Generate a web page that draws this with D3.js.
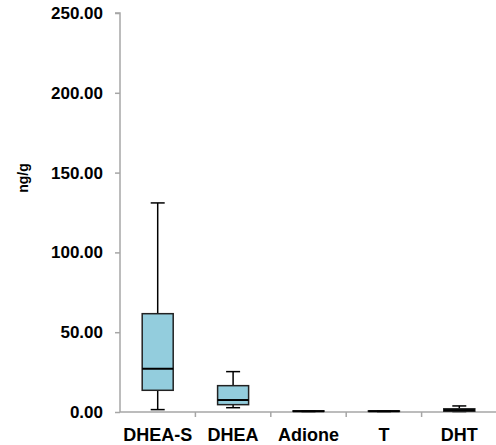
<!DOCTYPE html>
<html>
<head>
<meta charset="utf-8">
<script src="https://cdn.jsdelivr.net/npm/d3@7"></script>
<style>
  body { margin: 0; background: #fff; }
  text { font-family: "Liberation Sans", Arial, sans-serif; font-weight: bold; }
</style>
</head>
<body>
<svg width="496" height="445"></svg>
<script>
let categories = ["DHEA-S", "DHEA", "Adione", "T", "DHT"];
let minValues = [1.5, 2.7, 0.3, 0.3, 0.3];
let q1Values = [13.6, 4.6, 0.4, 0.4, 0.5];
let medianValues = [27.1, 7.5, 0.5, 0.5, 1.2];
let q3Values = [61.6, 16.5, 0.7, 0.7, 2.0];
let maxValues = [131, 25.3, 0.8, 0.8, 3.8];
let yTicks = [0, 50, 100, 150, 200, 250];

let data = categories.map((c, i) => ({
    name: c, min: minValues[i], q1: q1Values[i], median: medianValues[i],
    q3: q3Values[i], max: maxValues[i]
}));

let svg = d3.select("svg");
let plotLeft = 120, plotRight = 497, plotTop = 13, plotBottom = 412;

let xScale = d3.scaleBand()
    .domain(categories)
    .range([plotLeft, plotRight]);

let yScale = d3.scaleLinear()
    .domain([0, 250])
    .range([plotBottom, plotTop]);

// y axis
let yAxis = d3.axisLeft(yScale)
    .tickValues(yTicks)
    .tickFormat(d3.format(".2f"))
    .tickSize(5)
    .tickPadding(12);

let gy = svg.append("g")
    .attr("transform", `translate(${plotLeft},0)`)
    .call(yAxis);
gy.selectAll("path, line").attr("stroke", "#a6a6a6").attr("stroke-width", 1.5);
gy.select(".domain").attr("d", `M-5,${plotTop}H0V${plotBottom}`);
gy.selectAll("text").attr("font-size", 17).attr("fill", "#000")
    .style("font-family", "'Liberation Sans', Arial, sans-serif").style("font-weight", "bold");

// x axis
let xAxis = d3.axisBottom(xScale)
    .tickSize(0)
    .tickPadding(16);

let gx = svg.append("g")
    .attr("transform", `translate(0,${plotBottom})`)
    .call(xAxis);
gx.select(".domain").attr("stroke", "#a6a6a6").attr("stroke-width", 1.5)
    .attr("d", `M${plotLeft},0H${plotRight}`);
gx.selectAll("text").attr("font-size", 18).attr("fill", "#000")
    .style("font-family", "'Liberation Sans', Arial, sans-serif").style("font-weight", "bold");

// category separators
gx.selectAll(".sep")
    .data(categories.slice(1))
    .enter()
    .append("line")
    .attr("x1", d => xScale(d))
    .attr("x2", d => xScale(d))
    .attr("y1", 0)
    .attr("y2", 5)
    .attr("stroke", "#a6a6a6")
    .attr("stroke-width", 1.5);

// y axis title
svg.append("text")
    .attr("transform", "translate(28,178) rotate(-90)")
    .attr("text-anchor", "middle")
    .attr("font-size", 14)
    .text("ng/g");

// boxes
let boxWidth = 31, capWidth = 14;
let boxes = svg.append("g").selectAll("g")
    .data(data)
    .enter()
    .append("g")
    .attr("transform", d => `translate(${xScale(d.name) + xScale.bandwidth() / 2},0)`);

boxes.append("line")
    .attr("x1", 0).attr("x2", 0)
    .attr("y1", d => yScale(d.max))
    .attr("y2", d => yScale(d.min))
    .attr("stroke", "#000").attr("stroke-width", 1.5);

boxes.append("line")
    .attr("x1", -capWidth / 2).attr("x2", capWidth / 2)
    .attr("y1", d => yScale(d.max)).attr("y2", d => yScale(d.max))
    .attr("stroke", "#000").attr("stroke-width", 1.5);

boxes.append("line")
    .attr("x1", -capWidth / 2).attr("x2", capWidth / 2)
    .attr("y1", d => yScale(d.min)).attr("y2", d => yScale(d.min))
    .attr("stroke", "#000").attr("stroke-width", 1.5);

boxes.append("rect")
    .attr("x", -boxWidth / 2)
    .attr("width", boxWidth)
    .attr("y", d => yScale(d.q3))
    .attr("height", d => yScale(d.q1) - yScale(d.q3))
    .attr("fill", "#93cddd")
    .attr("stroke", "#222").attr("stroke-width", 1.5);

boxes.append("line")
    .attr("x1", -boxWidth / 2).attr("x2", boxWidth / 2)
    .attr("y1", d => yScale(d.median)).attr("y2", d => yScale(d.median))
    .attr("stroke", "#000").attr("stroke-width", 2);
</script>
</body>
</html>
